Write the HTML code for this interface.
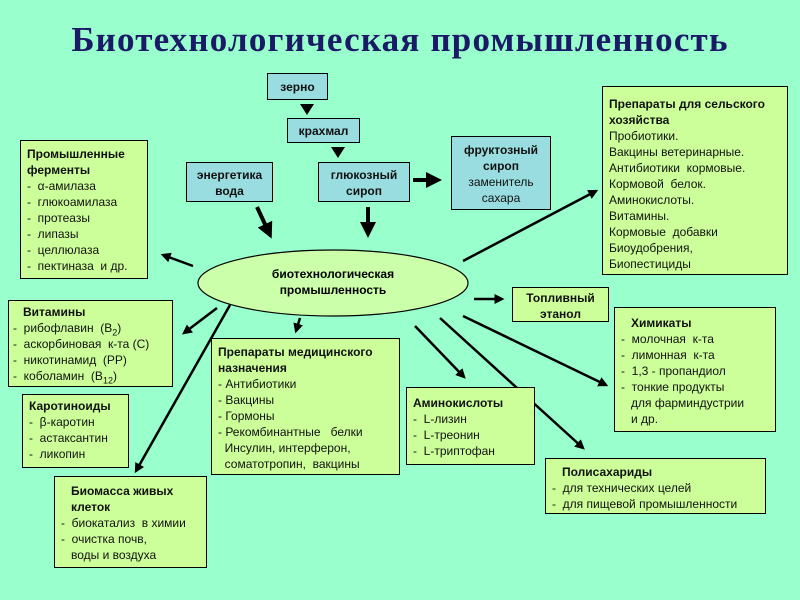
<!DOCTYPE html>
<html><head><meta charset="utf-8"><style>
body{margin:0;width:800px;height:600px;background:#99ffcc;position:relative;overflow:hidden;font-family:"Liberation Sans",sans-serif;}
.b{position:absolute;border:1.5px solid #000;background:#ccff99;font-size:12px;line-height:16px;color:#111;box-sizing:border-box;padding:3px 6px;}
.bl{background:#99dde0;text-align:center;font-weight:bold;}
b{font-weight:bold}
h1{position:absolute;left:0;width:800px;top:20px;margin:0;text-align:center;font-family:"Liberation Serif",serif;font-size:35px;color:#1a1a66;font-weight:bold;letter-spacing:1.2px}
svg{position:absolute;left:0;top:0}
sub{font-size:9px;line-height:0}
</style></head><body>
<h1>Биотехнологическая промышленность</h1>
<svg width="800" height="600">
<defs><marker id="a" markerWidth="4" markerHeight="4" refX="3" refY="2" orient="auto"><path d="M0,0L4,2L0,4z" fill="#000"/></marker></defs>
<ellipse cx="333" cy="283" rx="135" ry="33" fill="#ccffaa" stroke="#000" stroke-width="1.2"/>
<path d="M300,104h14l-7,11z M331,147h14l-7,11z" fill="#000"/>
<g stroke="#000" stroke-width="4" marker-end="url(#a)">
<line x1="257" y1="207" x2="270" y2="235"/>
<line x1="368" y1="207" x2="368" y2="234"/>
<line x1="413" y1="180" x2="438" y2="180"/>
</g>
<g stroke="#000" stroke-width="2.5" marker-end="url(#a)">
<line x1="193" y1="266" x2="163" y2="255"/>
<line x1="463" y1="261" x2="596" y2="191"/>
<line x1="474" y1="299" x2="502" y2="299"/>
<line x1="217" y1="308" x2="184" y2="333"/>
<line x1="230" y1="305" x2="136" y2="471"/>
<line x1="300" y1="318" x2="296" y2="331"/>
<line x1="415" y1="326" x2="464" y2="377"/>
<line x1="463" y1="316" x2="606" y2="385"/>
<line x1="440" y1="318" x2="583" y2="448"/>
</g>
<text x="333" y="278" text-anchor="middle" font-family="Liberation Sans" font-size="12" font-weight="bold">биотехнологическая</text>
<text x="333" y="294" text-anchor="middle" font-family="Liberation Sans" font-size="12" font-weight="bold">промышленность</text>
</svg>
<div class="b bl" style="left:267px;top:73px;width:61px;height:27px;padding-top:5px">зерно</div>
<div class="b bl" style="left:287px;top:118px;width:73px;height:25px;padding-top:4px">крахмал</div>
<div class="b bl" style="left:186px;top:162px;width:87px;height:40px;padding-top:4px">энергетика<br>вода</div>
<div class="b bl" style="left:318px;top:162px;width:92px;height:40px;padding-top:4px">глюкозный<br>сироп</div>
<div class="b bl" style="left:451px;top:136px;width:100px;height:74px;padding-top:5px">фруктозный<br>сироп<br><span style="font-weight:normal">заменитель<br>сахара</span></div>
<div class="b" style="left:20px;top:140px;width:128px;height:139px;padding-top:5px"><b>Промышленные<br>ферменты</b><br>-&nbsp; α-амилаза<br>-&nbsp; глюкоамилаза<br>-&nbsp; протеазы<br>-&nbsp; липазы<br>-&nbsp; целлюлаза<br>-&nbsp; пектиназа&nbsp; и др.</div>
<div class="b" style="left:602px;top:86px;width:186px;height:189px;padding-top:9px"><b>Препараты для сельского хозяйства</b><br>Пробиотики.<br>Вакцины ветеринарные.<br>Антибиотики&nbsp; кормовые.<br>Кормовой&nbsp; белок.<br>Аминокислоты.<br>Витамины.<br>Кормовые&nbsp; добавки<br>Биоудобрения,<br>Биопестициды</div>
<div class="b" style="left:512px;top:287px;width:97px;height:35px;text-align:center;font-weight:bold;padding-top:2px">Топливный<br>этанол</div>
<div class="b" style="left:8px;top:300px;width:165px;height:87px;padding:3px 4px"><b>&nbsp;&nbsp;&nbsp;Витамины</b><br>-&nbsp; рибофлавин&nbsp; (B<sub>2</sub>)<br>-&nbsp; аскорбиновая&nbsp; к-та (C)<br>-&nbsp; никотинамид&nbsp; (PP)<br>-&nbsp; коболамин&nbsp; (B<sub>12</sub>)</div>
<div class="b" style="left:22px;top:394px;width:107px;height:74px"><b>Каротиноиды</b><br>-&nbsp; β-каротин<br>-&nbsp; астаксантин<br>-&nbsp; ликопин</div>
<div class="b" style="left:54px;top:476px;width:153px;height:92px;padding-top:6px"><b>&nbsp;&nbsp;&nbsp;Биомасса живых<br>&nbsp;&nbsp;&nbsp;клеток</b><br>-&nbsp; биокатализ&nbsp; в химии<br>-&nbsp; очистка почв,<br>&nbsp;&nbsp;&nbsp;воды и воздуха</div>
<div class="b" style="left:211px;top:338px;width:189px;height:137px;padding:5px 6px"><b>Препараты медицинского назначения</b><br>- Антибиотики<br>- Вакцины<br>- Гормоны<br>- Рекомбинантные&nbsp;&nbsp; белки<br>&nbsp;&nbsp;Инсулин, интерферон,<br>&nbsp;&nbsp;соматотропин,&nbsp; вакцины</div>
<div class="b" style="left:406px;top:387px;width:129px;height:78px;padding-top:7px"><b>Аминокислоты</b><br>-&nbsp; L-лизин<br>-&nbsp; L-треонин<br>-&nbsp; L-триптофан</div>
<div class="b" style="left:614px;top:307px;width:162px;height:125px;padding-top:7px"><b>&nbsp;&nbsp;&nbsp;Химикаты</b><br>-&nbsp; молочная&nbsp; к-та<br>-&nbsp; лимонная&nbsp; к-та<br>-&nbsp; 1,3 - пропандиол<br>-&nbsp; тонкие продукты<br>&nbsp;&nbsp;&nbsp;для фарминдустрии<br>&nbsp;&nbsp;&nbsp;и др.</div>
<div class="b" style="left:545px;top:458px;width:221px;height:56px;padding-top:5px"><b>&nbsp;&nbsp;&nbsp;Полисахариды</b><br>-&nbsp; для технических целей<br>-&nbsp; для пищевой промышленности</div>
</body></html>
